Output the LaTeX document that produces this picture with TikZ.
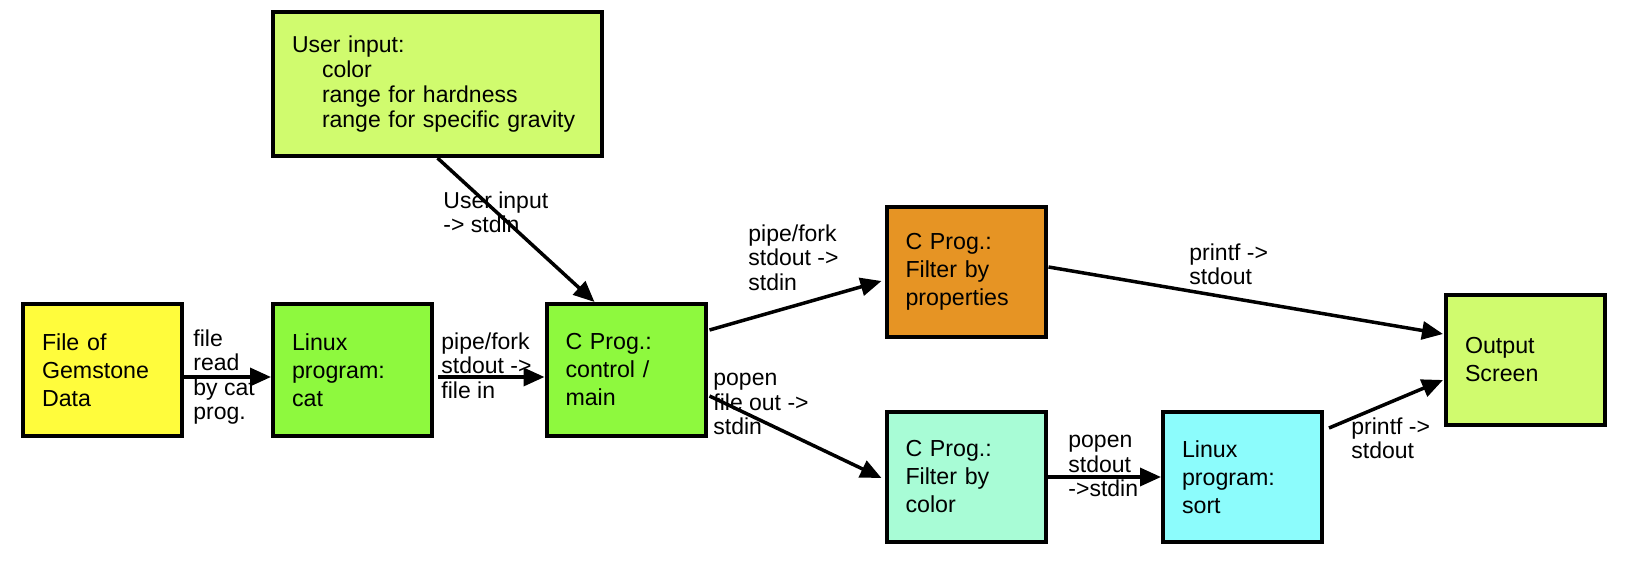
\documentclass[tikz,border=0pt]{standalone}
\usepackage{fontspec}
\setmainfont{Liberation Sans}
\usetikzlibrary{arrows.meta,calc}
\definecolor{cyel}{RGB}{255,252,60}
\definecolor{cgrn}{RGB}{142,249,62}
\definecolor{clime}{RGB}{208,251,110}
\definecolor{corg}{RGB}{230,148,36}
\definecolor{cmint}{RGB}{168,252,214}
\definecolor{ccyan}{RGB}{140,252,252}
\begin{document}
\begin{tikzpicture}[x=0.5pt,y=-0.5pt,
  box/.style={draw, line width=2pt, rectangle, minimum width=79.5pt, minimum height=66pt,
    text width=60.5pt, inner xsep=9.5pt, inner ysep=0pt, align=left, font=\fontsize{11.6}{14}\selectfont},
  lbl/.style={inner sep=0pt, anchor=north west, align=left, font=\fontsize{11.5}{12.25}\selectfont},
  arr/.style={line width=1.75pt, -{Triangle[length=10.5pt,width=9pt]}}]
\useasboundingbox (0,0) rectangle (1628,567);
\node[box,fill=cyel] (file) at (102.5,370) {File of\\Gemstone\\Data};
\node[box,fill=cgrn] (cat) at (352.5,370) {Linux\\program:\\cat};
\node[box,fill=cgrn] (ctl) at (626,370) {C Prog.:\\control /\\main};
\node[box,fill=corg,minimum height=65pt] (props) at (966,272) {C Prog.:\\Filter by\\properties};
\node[box,fill=cmint,minimum height=65pt] (color) at (966,477) {C Prog.:\\Filter by\\color};
\node[box,fill=ccyan,minimum height=65pt] (sort) at (1242.5,477) {Linux\\program:\\sort};
\node[box,fill=clime,minimum height=65pt] (out) at (1525.5,360) {Output\\Screen};
\node[box,fill=clime,minimum width=164.5pt,minimum height=72pt,text width=145.5pt,
  font=\fontsize{11.5}{12.6}\selectfont] (ui) at (437.5,84)
  {User input:\\\hspace*{15pt}color\\\hspace*{15pt}range for hardness\\\hspace*{15pt}range for specific gravity};
\draw[arr] ($(file.east)+(0,7)$) -- ($(cat.west)+(0,7)$);
\draw[arr] ($(cat.east)+(4,7)$) -- ($(ctl.west)+(0,7)$);
\draw[arr] (ui.south) -- ($(ctl.north west)+(50,0)$);
\draw[arr] ($(ctl.east)+(2,-40)$) -- ($(props.west)+(-3,9)$);
\draw[arr] ($(ctl.east)+(2,26)$) -- ($(color.west)+(-3,1)$);
\draw[arr] ($(props.east)+(1,-5)$) -- ($(out.west)+(-1,-26)$);
\draw[arr] (color.east) -- (sort.west);
\draw[arr] ($(sort.east)+(5,-49)$) -- ($(out.west)+(-1,20)$);
\node[lbl] (l1) at (193,329) {file\\read\\by cat\\prog.};
\node[lbl] (l2) at (441,332) {pipe/fork\\stdout ->\\file in};
\node[lbl] (l3) at (443,191) {User input\\-> stdin};
\node[lbl] (l4) at (748,224) {pipe/fork\\stdout ->\\stdin};
\node[lbl] (l5) at (713,373) {popen\\file out ->\\stdin};
\node[lbl] (l6) at (1189,243) {printf ->\\stdout};
\node[lbl] (l7) at (1068,435) {popen\\stdout\\->stdin};
\node[lbl] (l8) at (1351,417) {printf ->\\stdout};
\end{tikzpicture}
\end{document}
